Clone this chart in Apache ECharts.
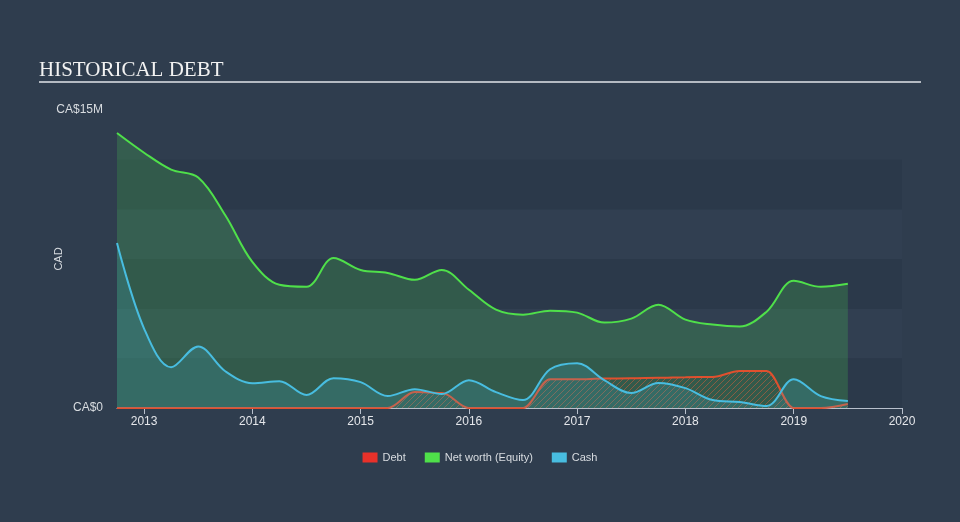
<!DOCTYPE html>
<html>
<head>
<meta charset="utf-8">
<script src="https://cdn.jsdelivr.net/npm/echarts@6/dist/echarts.min.js"></script>
<style>
  html, body { margin: 0; padding: 0; }
  body { background: #2f3d4e; }
  #chart { width: 960px; height: 522px; }
</style>
</head>
<body>
<div id="chart"></div>
<script>
// quarter ends, as decimal years
var quarters = [2012.75, 2013, 2013.25, 2013.5, 2013.75, 2014, 2014.25, 2014.5, 2014.75,
  2015, 2015.25, 2015.5, 2015.75, 2016, 2016.25, 2016.5, 2016.75, 2017, 2017.25, 2017.5,
  2017.75, 2018, 2018.25, 2018.5, 2018.75, 2019, 2019.25, 2019.5]
// values in CA$ millions
var debt = [0, 0, 0, 0, 0, 0, 0, 0, 0,
  0, 0, 0.8, 0.75, 0, 0, 0, 1.45, 1.45, 1.48, 1.5,
  1.52, 1.55, 1.56, 1.86, 1.86, 0, 0, 0.2]
var netWorth = [13.84, 12.85, 12.0, 11.6, 9.7, 7.35, 6.2, 6.1, 7.55,
  6.95, 6.8, 6.45, 6.95, 5.95, 4.95, 4.7, 4.9, 4.8, 4.3, 4.5,
  5.2, 4.45, 4.2, 4.1, 4.85, 6.4, 6.1, 6.25]
var cash = [8.3, 4.0, 2.05, 3.1, 1.85, 1.25, 1.35, 0.65, 1.5,
  1.3, 0.6, 0.95, 0.7, 1.4, 0.8, 0.4, 1.95, 2.25, 1.4, 0.75,
  1.26, 1.0, 0.4, 0.3, 0.1, 1.45, 0.6, 0.35]
var yearTicks = [2013, 2014, 2015, 2016, 2017, 2018, 2019, 2020]

function pairs (ys) {
  return quarters.map(function (q, i) { return [q, ys[i]] })
}

// hatch pattern for the debt area
function hatch () {
  var c = document.createElement('canvas')
  c.width = 6
  c.height = 6
  var ctx = c.getContext('2d')
  ctx.strokeStyle = 'rgba(225, 95, 60, 0.7)'
  ctx.lineWidth = 1
  ctx.beginPath()
  ctx.moveTo(0, 6)
  ctx.lineTo(6, 0)
  ctx.moveTo(-1, 1)
  ctx.lineTo(1, -1)
  ctx.moveTo(5, 7)
  ctx.lineTo(7, 5)
  ctx.stroke()
  return c
}

var labelFont = 'Liberation Sans, Arial, sans-serif'
var chart = echarts.init(document.getElementById('chart'))
chart.setOption({
  animation: false,
  backgroundColor: '#2f3d4e',
  title: {
    text: 'HISTORICAL DEBT',
    left: 34,
    top: 55,
    textStyle: {
      color: '#f2f2f2',
      fontFamily: 'Liberation Serif, DejaVu Serif, serif',
      fontWeight: 'normal',
      fontSize: 21
    }
  },
  graphic: [{
    type: 'line',
    shape: {x1: 39, y1: 82, x2: 921, y2: 82},
    style: {stroke: '#b4bac2', lineWidth: 2}
  }],
  legend: {
    bottom: 54,
    left: 'center',
    icon: 'rect',
    itemWidth: 15,
    itemHeight: 10,
    itemGap: 19,
    data: ['Debt', 'Net worth (Equity)', 'Cash'],
    textStyle: {color: '#d8dce0', fontSize: 11, fontFamily: labelFont}
  },
  grid: {left: 117, right: 58, top: 110, bottom: 114},
  xAxis: {
    type: 'value',
    min: 2012.75,
    max: 2020,
    splitLine: {show: false},
    axisLine: {lineStyle: {color: '#b8c0cc', width: 1}},
    axisTick: {show: true, length: 6, customValues: yearTicks, lineStyle: {color: '#b8c0cc'}},
    axisLabel: {
      customValues: yearTicks,
      color: '#e4e6ea',
      fontSize: 12,
      fontFamily: labelFont,
      margin: 8,
      formatter: function (v) { return String(Math.round(v)) }
    }
  },
  yAxis: {
    type: 'value',
    min: 0,
    max: 15,
    interval: 2.5,
    name: 'CAD',
    nameLocation: 'middle',
    nameRotate: 90,
    nameGap: 53,
    nameMoveOverlap: false,
    nameTextStyle: {color: '#d8dce0', fontSize: 11, fontFamily: labelFont},
    axisLine: {show: false},
    axisTick: {show: false},
    splitLine: {show: false},
    splitArea: {
      show: true,
      areaStyle: {color: ['#2b394a', '#313f51', '#2b394a', '#313f51', '#2b394a', 'rgba(0,0,0,0)']}
    },
    axisLabel: {
      color: '#d8dce0',
      fontSize: 12,
      fontFamily: labelFont,
      margin: 14,
      formatter: function (v) {
        if (v === 0) return 'CA$0'
        if (v === 15) return 'CA$15M'
        return ''
      }
    }
  },
  series: [{
    name: 'Net worth (Equity)',
    type: 'line',
    data: pairs(netWorth),
    smooth: 0.35,
    symbol: 'none',
    z: 1,
    itemStyle: {color: '#4fe04a'},
    lineStyle: {color: '#4fe04a', width: 2},
    areaStyle: {color: 'rgba(72, 205, 80, 0.33)'}
  }, {
    name: 'Cash',
    type: 'line',
    data: pairs(cash),
    smooth: 0.35,
    symbol: 'none',
    z: 3,
    itemStyle: {color: '#48bde0'},
    lineStyle: {color: '#48bde0', width: 2},
    areaStyle: {color: 'rgba(70, 185, 225, 0.25)'}
  }, {
    name: 'Debt',
    type: 'line',
    data: pairs(debt),
    smooth: 0.35,
    smoothMonotone: 'x',
    symbol: 'none',
    z: 2,
    itemStyle: {color: '#e8312a'},
    lineStyle: {color: '#e0502e', width: 2},
    areaStyle: {color: {image: hatch(), repeat: 'repeat'}}
  }]
})
</script>
</body>
</html>
